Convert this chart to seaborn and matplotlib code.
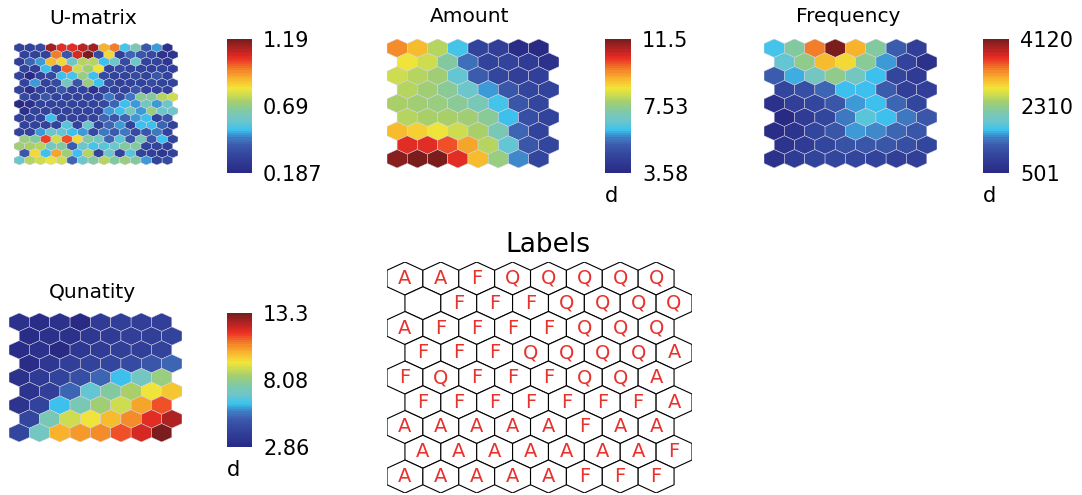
import numpy as np
import matplotlib
matplotlib.use("Agg")
import matplotlib.pyplot as plt
from matplotlib.collections import PolyCollection
from matplotlib.colors import LinearSegmentedColormap, Normalize
from matplotlib.cm import ScalarMappable
import seaborn as sns

# ---------------------------------------------------------------- data
# U-matrix of the 9x8 map (17 x 15 cells)
umatrix = [
    [0.31, 0.31, 0.33, 1.13, 1.06, 1.05, 1.10, 1.13, 0.90, 0.97, 0.53, 0.62, 0.38, 0.48, 0.23],
    [0.31, 0.31, 0.31, 0.97, 0.38, 1.08, 1.19, 0.34, 0.83, 0.29, 0.41, 0.38, 0.34, 0.24, 0.24],
    [0.29, 0.41, 0.48, 0.89, 0.83, 0.59, 0.75, 0.75, 0.51, 0.58, 0.34, 0.59, 0.31, 0.31, 0.25],
    [0.31, 0.29, 0.51, 0.34, 1.00, 0.77, 0.71, 0.82, 0.31, 0.34, 0.31, 0.31, 0.29, 0.31, 0.29],
    [0.31, 0.20, 0.31, 0.34, 0.51, 0.53, 0.70, 0.51, 0.34, 0.31, 0.31, 0.34, 0.31, 0.39, 0.31],
    [0.31, 0.47, 0.31, 0.34, 0.60, 0.38, 0.70, 0.51, 0.34, 0.29, 0.31, 0.31, 0.34, 0.31, 0.31],
    [0.31, 0.23, 0.31, 0.31, 0.38, 0.31, 0.31, 0.23, 0.31, 0.31, 0.31, 0.38, 0.31, 0.31, 0.31],
    [0.34, 0.31, 0.39, 0.31, 0.31, 0.31, 0.31, 0.31, 0.45, 0.34, 0.45, 0.67, 0.65, 0.75, 0.77],
    [0.187, 0.22, 0.31, 0.31, 0.31, 0.31, 0.31, 0.31, 0.34, 0.41, 0.51, 0.48, 0.60, 0.48, 0.59],
    [0.23, 0.31, 0.31, 0.31, 0.31, 0.31, 0.31, 0.31, 0.47, 0.51, 0.62, 0.48, 0.70, 0.59, 0.59],
    [0.31, 0.31, 0.31, 0.51, 0.31, 0.31, 0.31, 0.31, 0.41, 0.38, 0.41, 0.48, 0.51, 0.31, 0.38],
    [0.31, 0.31, 0.31, 0.31, 0.56, 0.31, 0.58, 0.31, 0.41, 0.47, 0.31, 0.51, 0.51, 0.41, 0.31],
    [0.31, 0.31, 0.47, 0.59, 0.57, 0.51, 0.47, 0.34, 0.45, 0.40, 0.45, 0.34, 0.38, 0.45, 0.31],
    [0.70, 0.65, 1.02, 0.77, 1.01, 0.83, 0.65, 0.60, 0.41, 0.56, 0.38, 0.62, 0.39, 0.51, 0.31],
    [0.71, 0.73, 0.75, 0.60, 0.65, 0.40, 0.59, 0.53, 0.56, 0.58, 0.65, 0.65, 0.31, 0.31, 0.29],
    [0.39, 0.83, 0.51, 0.91, 0.71, 0.51, 0.75, 0.31, 0.58, 0.31, 0.56, 0.31, 0.29, 0.25, 0.31],
    [0.59, 0.75, 0.77, 0.81, 0.77, 0.41, 0.59, 0.65, 0.75, 0.65, 0.70, 0.65, 0.48, 0.31, 0.33],
]
umatrix_ticks = [0.187, 0.69, 1.19]

# component plane: Amount (9 x 8 units)
amount = [
    [9.60, 9.12, 8.02, 6.27, 4.53, 4.37, 3.82, 3.58],
    [8.57, 8.17, 7.22, 5.44, 4.53, 4.53, 4.21, 3.90],
    [8.25, 8.02, 7.70, 6.67, 5.28, 4.61, 4.37, 4.37],
    [8.02, 7.78, 7.38, 6.75, 5.88, 5.08, 4.69, 4.53],
    [7.86, 7.78, 7.62, 7.38, 6.99, 6.27, 5.08, 4.61],
    [8.02, 7.86, 7.86, 7.78, 7.38, 6.11, 4.93, 4.53],
    [9.12, 8.89, 8.57, 8.25, 7.86, 6.99, 5.32, 4.53],
    [10.39, 10.39, 10.07, 9.28, 8.02, 6.67, 5.08, 4.61],
    [11.26, 11.50, 11.42, 10.39, 9.12, 7.54, 5.80, 4.69],
]
amount_ticks = [3.58, 7.53, 11.5]

# component plane: Frequency
frequency = [
    [1731, 2166, 3324, 4120, 3071, 2166, 1279, 863],
    [1912, 2274, 3034, 2835, 2202, 1550, 935, 646],
    [1279, 1587, 1985, 2274, 1985, 1659, 1008, 791],
    [1008, 1080, 1333, 1641, 1659, 1279, 863, 863],
    [646, 863, 971, 1225, 1550, 1641, 1297, 1008],
    [501, 791, 971, 1442, 1840, 1659, 1442, 1225],
    [610, 682, 971, 1225, 1550, 1514, 1333, 1225],
    [682, 827, 1008, 1152, 1225, 1225, 1080, 1008],
    [646, 791, 935, 1008, 1008, 935, 863, 863],
]
frequency_ticks = [501, 2310, 4120]

# component plane: Quantity
quantity = [
    [3.28, 3.17, 3.28, 3.00, 3.70, 3.90, 3.90, 3.90],
    [3.17, 3.28, 3.28, 3.59, 3.80, 3.90, 3.90, 4.01],
    [3.17, 3.28, 2.86, 3.59, 3.70, 3.90, 3.90, 4.11],
    [3.17, 3.59, 3.90, 4.11, 4.22, 4.43, 4.84, 5.16],
    [3.28, 3.70, 4.11, 4.63, 5.26, 6.20, 7.14, 8.08],
    [3.38, 3.90, 5.16, 6.83, 7.66, 8.50, 9.44, 10.01],
    [3.49, 4.11, 6.20, 7.35, 8.29, 9.02, 10.48, 11.42],
    [4.32, 7.35, 8.92, 9.44, 10.17, 10.79, 11.94, 12.57],
    [4.22, 7.24, 10.27, 10.69, 10.79, 11.42, 12.15, 13.30],
]
quantity_ticks = [2.86, 8.08, 13.3]

# best-matching class of every unit
unit_labels = [
    ["A", "A", "F", "Q", "Q", "Q", "Q", "Q"],
    ["",  "F", "F", "F", "Q", "Q", "Q", "Q"],
    ["A", "F", "F", "F", "F", "Q", "Q", "Q"],
    ["F", "F", "F", "Q", "Q", "Q", "Q", "A"],
    ["F", "Q", "F", "F", "F", "Q", "Q", "A"],
    ["F", "F", "F", "F", "F", "F", "F", "A"],
    ["A", "A", "A", "A", "A", "F", "A", "A"],
    ["A", "A", "A", "A", "A", "A", "A", "F"],
    ["A", "A", "A", "A", "A", "F", "F", "F"],
]

# ---------------------------------------------------------------- style
sns.set_theme(style="white")
plt.rcParams["font.family"] = ["DejaVu Sans"]
plt.rcParams["text.color"] = "black"

W, H = 1082, 495
fig = plt.figure(figsize=(W / 100, H / 100), dpi=100)

rainbow = LinearSegmentedColormap.from_list("som_rainbow", [
    (0.00, "#292a84"), (0.10, "#31409a"), (0.20, "#3a58aa"),
    (0.26, "#3f7cc4"), (0.32, "#3dc3f0"), (0.40, "#6fc7c8"),
    (0.47, "#86c99a"), (0.54, "#a9d068"), (0.63, "#f0e63a"),
    (0.71, "#f8b52c"), (0.77, "#f3862a"), (0.86, "#ec2f26"),
    (0.93, "#b52222"), (1.00, "#7b1d1d"),
]).resampled(64)

R = 1 / np.sqrt(3)
DY = np.sqrt(3) / 2
ANG = np.deg2rad([90, 30, -30, -90, -150, 150])
HEX = np.column_stack([R * np.cos(ANG), R * np.sin(ANG)])

TICK_FS = 15


def box(x0, y0, x1, y1):
    return [x0 / W, 1 - y1 / H, (x1 - x0) / W, (y1 - y0) / H]


def centres(nrow, ncol):
    pts = []
    for r in range(nrow):
        for c in range(ncol):
            pts.append((c + 0.5 * (r % 2), -r * DY))
    return np.array(pts)


def hex_axes(rect, nrow, ncol):
    ax = fig.add_axes(rect)
    ax.set_xlim(-0.5, ncol)
    ax.set_ylim(-(nrow - 1) * DY - R, R)
    ax.set_aspect("auto")
    ax.axis("off")
    return ax


def plane(rect, values, ticks, cbar_rect, with_d=True):
    vals = np.asarray(values, dtype=float)
    nrow, ncol = vals.shape
    ax = hex_axes(rect, nrow, ncol)
    pts = centres(nrow, ncol)
    norm = Normalize(vmin=ticks[0], vmax=ticks[-1])
    coll = PolyCollection([HEX + p for p in pts], array=vals.ravel(),
                          cmap=rainbow, norm=norm,
                          edgecolors="#d4d4e2", linewidths=0.35)
    ax.add_collection(coll)

    cax = fig.add_axes(cbar_rect)
    cb = fig.colorbar(ScalarMappable(norm=norm, cmap=rainbow), cax=cax)
    cb.outline.set_visible(False)
    cb.set_ticks(ticks)
    cb.set_ticklabels([f"{t:g}" for t in ticks])
    cax.tick_params(length=0, pad=8, labelsize=TICK_FS, colors="black")
    if with_d:
        cax.text(0.0, -0.175, "d", transform=cax.transAxes,
                 ha="left", va="center", fontsize=TICK_FS, color="black")
    return ax


# ---------------------------------------------------------------- panels
plane(box(14, 43, 178, 165), umatrix, umatrix_ticks,
      box(227, 39, 252, 173), with_d=False)
plane(box(387, 39, 559, 168), amount, amount_ticks, box(605, 39, 631, 173))
plane(box(764, 39, 937, 168), frequency, frequency_ticks, box(983, 39, 1009, 173))
plane(box(9, 313, 182, 442), quantity, quantity_ticks, box(227, 313, 252, 447))

# label map
lab_ax = hex_axes(box(387, 262, 692, 493), 9, 8)
pts = centres(9, 8)
lab_ax.add_collection(PolyCollection([HEX + p for p in pts], facecolors="white",
                                     edgecolors="black", linewidths=0.8))
for (x, y), lab in zip(pts, np.ravel(unit_labels)):
    if lab:
        lab_ax.text(x, y, lab, ha="center", va="center",
                    color="#e8322e", fontsize=14)

# titles
titles = [("U-matrix", 93, 19, 14.5), ("Amount", 470, 17, 14.5),
          ("Frequency", 848, 17, 14.5), ("Qunatity", 92, 293, 14.5),
          ("Labels", 548, 245, 19)]
for txt, x, y, fs in titles:
    fig.text(x / W, 1 - y / H, txt, ha="center", va="center",
             fontsize=fs, color="black")

fig.savefig("out.png", dpi=100, facecolor="white")
